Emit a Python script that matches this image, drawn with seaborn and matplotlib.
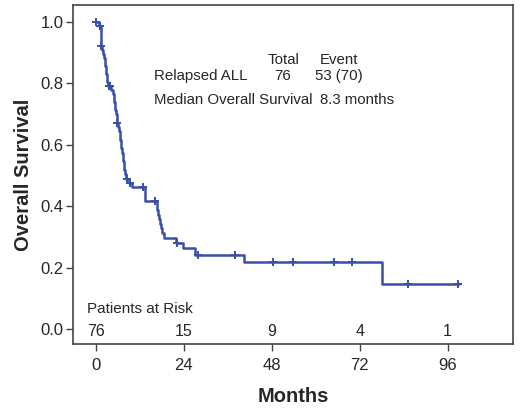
import matplotlib
matplotlib.use("Agg")
import matplotlib.pyplot as plt
import seaborn as sns
import pandas as pd

# Kaplan-Meier steps (months, survival after step)
step_months = [0, 0.9, 1.3, 1.4, 1.45, 1.5, 1.8, 2.0, 2.2, 2.4, 2.6, 2.75, 2.9, 3.0, 3.1,
               3.3, 4.2, 4.7, 4.85, 5.0, 5.15, 5.3, 5.5, 5.7, 5.8, 6.1, 6.3, 6.5, 6.7,
               6.85, 7.0, 7.2, 7.35, 7.5, 7.65, 7.8, 8.0, 8.3, 9.0, 9.9, 13.4, 16.6,
               16.8, 17.0, 17.2, 17.4, 17.7, 18.0, 18.6, 22.0, 23.9, 27.1, 40.5, 78.0, 99.0]
step_surv = [1.000, 0.987, 0.974, 0.961, 0.948, 0.922, 0.909, 0.896, 0.883, 0.870, 0.857,
             0.844, 0.831, 0.818, 0.805, 0.792, 0.779, 0.766, 0.753, 0.740, 0.727, 0.713,
             0.700, 0.686, 0.672, 0.658, 0.644, 0.630, 0.616, 0.602, 0.588, 0.574, 0.560,
             0.546, 0.532, 0.518, 0.504, 0.490, 0.476, 0.462, 0.418, 0.403, 0.388, 0.373,
             0.358, 0.343, 0.328, 0.313, 0.298, 0.282, 0.263, 0.243, 0.219, 0.146, 0.146]

# censored observations
cens_months = [0.1, 1.2, 1.55, 3.5, 4.0, 5.9, 8.6, 9.3, 13.0, 16.2, 22.3, 28.0, 38.0,
               48.4, 53.9, 65.0, 69.8, 85.3, 98.9]
cens_surv = [1.0, 0.987, 0.922, 0.792, 0.792, 0.672, 0.490, 0.476, 0.462, 0.418, 0.282,
             0.243, 0.243, 0.219, 0.219, 0.219, 0.219, 0.146, 0.146]

risk_months = [0, 24, 48, 72, 96]
risk_counts = [76, 15, 9, 4, 1]

sns.set_style("white")
plt.rcParams["font.family"] = ["Liberation Sans", "DejaVu Sans"]

blue = "#3a4fa6"
edge = "#444444"

km = pd.DataFrame({"Months": step_months, "Survival": step_surv})
cens = pd.DataFrame({"Months": cens_months, "Survival": cens_surv})

fig = plt.figure(figsize=(5.2, 4.16), dpi=100)
ax = fig.add_axes([0.1404, 0.173, 0.846, 0.815])

sns.lineplot(data=km, x="Months", y="Survival", drawstyle="steps-post",
             color=blue, linewidth=1.8, ax=ax)
sns.scatterplot(data=cens, x="Months", y="Survival", marker="+", color=blue,
                s=30, linewidth=1.4, ax=ax, zorder=3)

ax.set_xlim(-6.2, 113.8)
ax.set_ylim(-0.048, 1.054)
ax.set_xticks(risk_months)
ax.set_yticks([0.0, 0.2, 0.4, 0.6, 0.8, 1.0])
ax.set_yticklabels(["0.0", "0.2", "0.4", "0.6", "0.8", "1.0"])
ax.tick_params(axis="both", direction="out", length=5, width=1, color=edge,
               labelsize=12, left=True, bottom=True)
ax.tick_params(axis="x", pad=5)
ax.tick_params(axis="y", pad=2)
for sp in ax.spines.values():
    sp.set_color(edge)
    sp.set_linewidth(1.2)

ax.set_xlabel("Months", fontsize=14.5, fontweight="bold", labelpad=10)
ax.set_ylabel("Overall Survival", fontsize=14.5, fontweight="bold", labelpad=5)

# number at risk
ax.text(-2.4, 0.066, "Patients at Risk", fontsize=11, va="center", ha="left")
for m, n in zip(risk_months, risk_counts):
    ax.text(m, -0.008, str(n), fontsize=11.5, ha="center", va="center")

# summary table
fs = 10.8
ax.text(51.1, 0.875, "Total", fontsize=fs, ha="center", va="center")
ax.text(66.3, 0.875, "Event", fontsize=fs, ha="center", va="center")
ax.text(15.9, 0.823, "Relapsed ALL", fontsize=fs, ha="left", va="center")
ax.text(51.1, 0.823, "76", fontsize=fs, ha="center", va="center")
ax.text(66.3, 0.823, "53 (70)", fontsize=fs, ha="center", va="center")
ax.text(15.9, 0.745, "Median Overall Survival", fontsize=fs, ha="left", va="center")
ax.text(61.2, 0.745, "8.3 months", fontsize=fs, ha="left", va="center")

fig.savefig("out.png", dpi=100)
